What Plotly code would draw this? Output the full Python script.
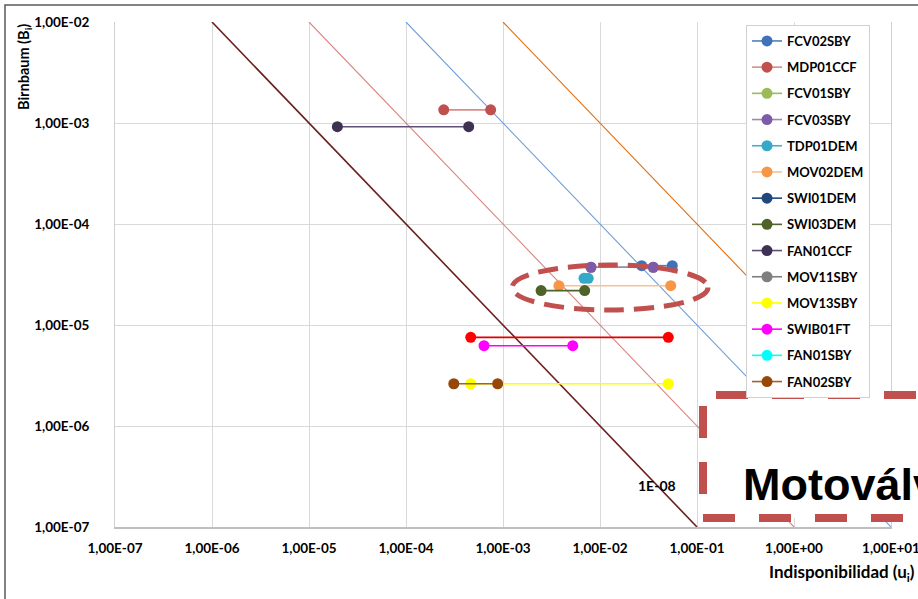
import plotly.graph_objects as go

# ---- data -------------------------------------------------------------
series_names = ["FCV02SBY", "MDP01CCF", "FCV01SBY", "FCV03SBY", "TDP01DEM",
                "MOV02DEM", "SWI01DEM", "SWI03DEM", "FAN01CCF", "MOV11SBY",
                "MOV13SBY", "SWIB01FT", "FAN01SBY", "FAN02SBY"]
# unavailability range (low / high) and Birnbaum importance of each component
u_low = [2.69e-2, 2.45e-4, None, 8.07e-3, 6.84e-3, 3.77e-3, None, 2.47e-3,
         1.96e-5, 8.07e-3, 4.65e-4, 6.37e-4, None, 3.11e-4]
u_high = [5.56e-2, 7.46e-4, None, 3.54e-2, 7.56e-3, 5.36e-2, None, 6.95e-3,
          4.43e-4, 3.54e-2, 5.06e-2, 5.24e-3, None, 8.81e-4]
b_value = [3.87e-5, 1.35e-3, None, 3.73e-5, 2.90e-5, 2.45e-5, None, 2.19e-5,
           9.19e-4, 3.73e-5, 2.62e-6, 6.24e-6, None, 2.62e-6]

# additional series shown without legend entry
extra_u = [4.65e-4, 5.06e-2]
extra_b = [7.55e-6, 7.55e-6]

# iso-risk lines  B * u = constant
iso_levels = [1e-8, 1e-7, 1e-6, 1e-5]
iso_label = "1E-08"

tick_vals = [1e-7, 1e-6, 1e-5, 1e-4, 1e-3, 1e-2, 1e-1, 1e0, 1e1]
x_tick_text = ["1,00E-07", "1,00E-06", "1,00E-05", "1,00E-04", "1,00E-03",
               "1,00E-02", "1,00E-01", "1,00E+00", "1,00E+01"]
y_tick_vals = [1e-7, 1e-6, 1e-5, 1e-4, 1e-3, 1e-2]
y_tick_text = ["1,00E-07", "1,00E-06", "1,00E-05", "1,00E-04", "1,00E-03",
               "1,00E-02"]

# ---- styles -----------------------------------------------------------
marker_colors = ["#3F72B8", "#C0504D", "#9BBB59", "#7E5BA6", "#35A9C8",
                 "#F79646", "#1F497D", "#4F6228", "#3F3151", "#7F7F7F",
                 "#FFFF00", "#FF00FF", "#00FFFF", "#974706"]
line_colors = ["#4F81BD", "#D98C8A", "#9BBB59", "#9A8CB0", "#4BACC6",
               "#FAC090", "#1F497D", "#4F6228", "#5F4F78", "#7F7F7F",
               "#FFFF00", "#FF00FF", "#00FFFF", "#A0622D"]
iso_colors = ["#6B1F1F", "#D9837F", "#6F9DD6", "#E46C0A"]
iso_widths = [1.6, 1.1, 1.1, 1.1]

FONT = "Lato, 'Open Sans', sans-serif"

fig = go.Figure()

# iso-risk lines, clipped by the axis ranges
for lvl, col, w in zip(iso_levels, iso_colors, iso_widths):
    fig.add_trace(go.Scatter(
        x=[lvl / 1e-2, lvl / 1e-7], y=[1e-2, 1e-7], mode="lines",
        line=dict(color=col, width=w), showlegend=False, hoverinfo="skip"))

# component ranges; MOV11SBY is drawn beneath FCV03SBY
draw_order = [0, 1, 2, 9, 3, 4, 5, 6, 7, 8, 10, 11, 12, 13]
for i in draw_order:
    xs = [u_low[i], u_high[i]]
    ys = [b_value[i], b_value[i]]
    fig.add_trace(go.Scatter(
        x=xs, y=ys, name=series_names[i], mode="lines+markers",
        legendrank=i + 1, legendgroup=series_names[i],
        line=dict(color=line_colors[i], width=1.6),
        marker=dict(color=marker_colors[i], size=11, line=dict(width=0))))
    if i == 12:
        # extra red series drawn alongside the others
        fig.add_trace(go.Scatter(
            x=extra_u, y=extra_b, mode="lines+markers", showlegend=False,
            name="extra", line=dict(color="#E00000", width=1.6),
            marker=dict(color="#FF0000", size=11, line=dict(width=0))))

L, R, T, B = 115, 27, 22, 72
W, H = 918, 599
PW, PH = W - L - R, H - T - B


def px(xp):
    return (xp - L) / PW


def py(yp):
    return (H - B - yp) / PH


shapes = [
    # outer chart frame
    dict(type="rect", xref="paper", yref="paper", x0=px(5), x1=px(1000),
         y0=py(700), y1=py(5), line=dict(color="#595959", width=1.5),
         layer="below"),
    # highlight ellipse around the motor-operated valve cluster
    dict(type="circle", xref="paper", yref="paper", x0=px(512), x1=px(708),
         y0=py(310), y1=py(265),
         line=dict(color="#C0504D", width=5, dash="20px,10px"),
         layer="above"),
    # callout box
    dict(type="rect", xref="paper", yref="paper", x0=px(703), x1=px(1000),
         y0=py(518), y1=py(395), fillcolor="white",
         line=dict(color="#C0504D", width=8, dash="32px,24px"),
         layer="above"),
]

annotations = [
    dict(text="<b>Motoválvulas</b>", xref="paper", yref="paper",
         x=px(741), y=py(484), xanchor="left", yanchor="middle",
         showarrow=False,
         font=dict(family="'Liberation Sans', Arial, sans-serif",
                   size=45, color="black")),
    dict(text="<b>" + iso_label + "</b>", xref="paper", yref="paper",
         x=px(657), y=py(485), xanchor="center", yanchor="middle",
         showarrow=False, font=dict(family=FONT, size=14, color="black")),
    dict(text="<b>Birnbaum (B<sub>i</sub>)</b>", xref="paper", yref="paper",
         x=px(25), y=py(67), xanchor="center", yanchor="middle",
         textangle=-90, showarrow=False,
         font=dict(family=FONT, size=14.5, color="black")),
    dict(text="<b>Indisponibilidad (u<sub>i</sub>)</b>", xref="paper",
         yref="paper", x=px(842), y=py(573), xanchor="center",
         yanchor="middle", showarrow=False,
         font=dict(family=FONT, size=17, color="black")),
]

fig.update_layout(
    width=W, height=H,
    margin=dict(l=L, r=R, t=T, b=B, pad=0, autoexpand=False),
    paper_bgcolor="white", plot_bgcolor="white",
    font=dict(family=FONT, color="black"),
    shapes=shapes, annotations=annotations,
    showlegend=True,
    legend=dict(x=px(746), y=py(25), xanchor="left", yanchor="top",
                bgcolor="white", bordercolor="#D0D0D0", borderwidth=1,
                font=dict(family=FONT, size=13, color="black",
                          weight="bold"),
                tracegroupgap=6.3, itemwidth=30,
                traceorder="grouped"),
    hovermode="closest",
)

fig.update_xaxes(
    type="log", range=[-7, 1], tickvals=tick_vals,
    ticktext=["<b>" + t + "</b>" for t in x_tick_text],
    tickfont=dict(family=FONT, size=13.5, color="black"),
    ticklabeloverflow="allow",
    showgrid=True, gridcolor="#D9D9D9", gridwidth=1,
    showline=True, linecolor="#BFBFBF", linewidth=1.5,
    ticks="", ticklabelstandoff=8, zeroline=False, automargin=False)
fig.update_yaxes(
    type="log", range=[-7, -2], tickvals=y_tick_vals,
    ticktext=["<b>" + t + "</b>" for t in y_tick_text],
    tickfont=dict(family=FONT, size=13.5, color="black"),
    ticklabeloverflow="allow",
    showgrid=True, gridcolor="#D9D9D9", gridwidth=1,
    showline=True, linecolor="#D0D0D0", linewidth=1, mirror=True,
    ticks="", ticklabelstandoff=22, zeroline=False, automargin=False)

fig.write_html("out.html")
